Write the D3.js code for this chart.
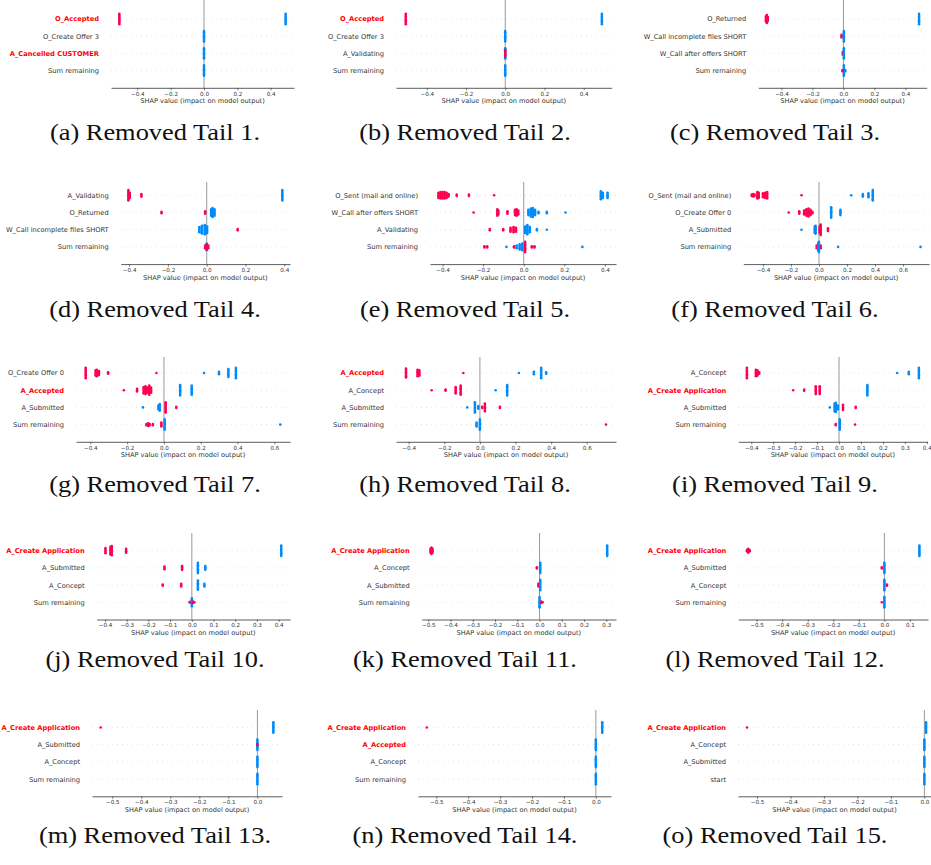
<!DOCTYPE html>
<html lang="en">
<head>
<meta charset="UTF-8">
<title>SHAP beeswarms - removed tails</title>
<script src="https://cdn.jsdelivr.net/npm/d3@7"></script>
<style>
  body { margin: 0; background: #fff; }
  .feat { font-family: "DejaVu Sans", sans-serif; font-size: 6.7px; fill: #333; }
  .feat.hl { fill: #ff0000; font-weight: bold; }
  .xlab { font-family: "DejaVu Sans", sans-serif; font-size: 6.6px; fill: #333; }
  .tick text { font-family: "DejaVu Sans", sans-serif; font-size: 5.6px; fill: #333; }
  .cap { font-family: "Liberation Serif", serif; font-size: 24px; fill: #111; }
</style>
</head>
<body>
<script>
// ---- data ----
const captions = [
  "(a) Removed Tail 1.", "(b) Removed Tail 2.", "(c) Removed Tail 3.",
  "(d) Removed Tail 4.", "(e) Removed Tail 5.", "(f) Removed Tail 6.",
  "(g) Removed Tail 7.", "(h) Removed Tail 8.", "(i) Removed Tail 9.",
  "(j) Removed Tail 10.", "(k) Removed Tail 11.", "(l) Removed Tail 12.",
  "(m) Removed Tail 13.", "(n) Removed Tail 14.", "(o) Removed Tail 15."
];

const featureNames = [
  ["O_Accepted", "O_Create Offer 3", "A_Cancelled CUSTOMER", "Sum remaining"],
  ["O_Accepted", "O_Create Offer 3", "A_Validating", "Sum remaining"],
  ["O_Returned", "W_Call incomplete files SHORT", "W_Call after offers SHORT", "Sum remaining"],
  ["A_Validating", "O_Returned", "W_Call incomplete files SHORT", "Sum remaining"],
  ["O_Sent (mail and online)", "W_Call after offers SHORT", "A_Validating", "Sum remaining"],
  ["O_Sent (mail and online)", "O_Create Offer 0", "A_Submitted", "Sum remaining"],
  ["O_Create Offer 0", "A_Accepted", "A_Submitted", "Sum remaining"],
  ["A_Accepted", "A_Concept", "A_Submitted", "Sum remaining"],
  ["A_Concept", "A_Create Application", "A_Submitted", "Sum remaining"],
  ["A_Create Application", "A_Submitted", "A_Concept", "Sum remaining"],
  ["A_Create Application", "A_Concept", "A_Submitted", "Sum remaining"],
  ["A_Create Application", "A_Submitted", "A_Concept", "Sum remaining"],
  ["A_Create Application", "A_Submitted", "A_Concept", "Sum remaining"],
  ["A_Create Application", "A_Accepted", "A_Concept", "Sum remaining"],
  ["A_Create Application", "A_Concept", "A_Submitted", "start"]
];

// activities printed in bold red
const highlighted = ["O_Accepted", "A_Cancelled CUSTOMER", "A_Accepted", "A_Create Application"];

const xTicks = [
  [-0.4, -0.2, 0, 0.2, 0.4],
  [-0.4, -0.2, 0, 0.2, 0.4],
  [-0.4, -0.2, 0, 0.2, 0.4],
  [-0.4, -0.2, 0, 0.2, 0.4],
  [-0.4, -0.2, 0, 0.2, 0.4],
  [-0.4, -0.2, 0, 0.2, 0.4, 0.6],
  [-0.4, -0.2, 0, 0.2, 0.4, 0.6],
  [-0.4, -0.2, 0, 0.2, 0.4, 0.6],
  [-0.4, -0.3, -0.2, -0.1, 0, 0.1, 0.2, 0.3, 0.4],
  [-0.4, -0.3, -0.2, -0.1, 0, 0.1, 0.2, 0.3, 0.4],
  [-0.5, -0.4, -0.3, -0.2, -0.1, 0, 0.1, 0.2, 0.3],
  [-0.5, -0.4, -0.3, -0.2, -0.1, 0, 0.1],
  [-0.5, -0.4, -0.3, -0.2, -0.1, 0],
  [-0.5, -0.4, -0.3, -0.2, -0.1, 0],
  [-0.5, -0.4, -0.3, -0.2, -0.1, 0]
];

// SHAP points per feature row: [shap value, how many samples pile up, feature value (1 high / 0 low)]
const pointsTail1 = [
  [[-0.508, 9, 1], [0.49, 9, 0]],
  [[0, 9, 0]],
  [[0, 9, 0]],
  [[0, 9, 0]]
];
const pointsTail2 = [
  [[-0.507, 9, 1], [0.493, 9, 0]],
  [[0, 9, 0]],
  [[0, 9, 0], [0, 6, 1]],
  [[0, 9, 0]]
];
const pointsTail3 = [
  [[-0.50, 5, 1], [-0.494, 7, 1], [-0.488, 4, 1], [0.488, 9, 0]],
  [[-0.012, 3, 1], [0.003, 9, 0]],
  [[-0.004, 3, 1], [0.003, 9, 0]],
  [[0.003, 9, 0], [-0.006, 2, 1], [0.012, 2, 0]]
];
const pointsTail4 = [
  [[-0.404, 9, 1], [-0.397, 5, 1], [-0.337, 3, 1], [0.39, 9, 0]],
  [[-0.233, 2, 1], [-0.008, 3, 1], [0.023, 6, 0], [0.03, 8, 0], [0.04, 6, 0]],
  [[-0.038, 5, 0], [-0.025, 7, 0], [-0.01, 8, 0], [0.002, 6, 0], [0.16, 2, 1]],
  [[0, 6, 0], [-0.008, 3, 1], [0, 5, 1], [0.008, 3, 1]]
];
const pointsTail5 = [
  [[-0.42, 5, 1], [-0.41, 6, 1], [-0.40, 6, 1], [-0.39, 6, 1], [-0.38, 5, 1], [-0.37, 3, 1],
   [-0.33, 2, 1], [-0.27, 2, 1], [-0.146, 1, 1], [0.38, 7, 0], [0.39, 5, 0], [0.413, 5, 0]],
  [[-0.247, 1, 1], [-0.13, 6, 1], [-0.125, 4, 1], [-0.08, 3, 1], [-0.043, 5, 1], [-0.035, 6, 1],
   [-0.027, 4, 1], [0.023, 5, 0], [0.035, 7, 0], [0.045, 8, 0], [0.056, 5, 0], [0.073, 2, 0],
   [0.114, 2, 0], [0.206, 1, 0]],
  [[-0.167, 2, 1], [-0.101, 2, 1], [-0.065, 4, 1], [-0.05, 5, 1], [-0.038, 4, 1],
   [0.007, 6, 0], [0.018, 8, 0], [0.03, 5, 0], [0.065, 2, 0], [0.114, 1, 0]],
  [[-0.194, 2, 1], [-0.18, 2, 1], [-0.085, 1, 0], [-0.048, 2, 1], [-0.035, 3, 0], [-0.02, 5, 0],
   [-0.007, 6, 0], [0.007, 9, 1], [0.04, 2, 1], [0.053, 2, 1], [0.289, 1, 0]]
];
const pointsTail6 = [
  [[-0.48, 2, 1], [-0.47, 3, 1], [-0.46, 2, 1], [-0.44, 6, 1], [-0.43, 5, 1], [-0.40, 4, 1],
   [-0.385, 5, 1], [-0.37, 6, 1], [-0.125, 1, 1], [0.23, 1, 0], [0.313, 3, 0], [0.353, 4, 0],
   [0.384, 9, 0]],
  [[-0.216, 1, 1], [-0.141, 3, 1], [-0.106, 4, 1], [-0.09, 6, 1], [-0.075, 7, 1], [-0.06, 5, 1],
   [-0.047, 2, 1], [0.087, 9, 0], [0.153, 5, 0]],
  [[-0.125, 1, 0], [-0.03, 6, 0], [-0.024, 7, 0], [0.005, 6, 1], [0.012, 9, 1], [0.064, 3, 1]],
  [[-0.016, 3, 1], [0.012, 3, 1], [-0.005, 7, 0], [0, 9, 0], [0.136, 1, 0], [0.725, 1, 0]]
];
const pointsTail7 = [
  [[-0.425, 9, 1], [-0.371, 5, 1], [-0.365, 6, 1], [-0.353, 4, 1], [-0.303, 2, 1], [-0.041, 1, 1],
   [0.218, 1, 0], [0.299, 3, 0], [0.35, 7, 0], [0.391, 9, 0]],
  [[-0.218, 1, 1], [-0.146, 3, 1], [-0.11, 6, 1], [-0.1, 7, 1], [-0.092, 5, 1], [-0.08, 8, 1],
   [-0.07, 5, 1], [0.088, 9, 0], [0.151, 8, 0]],
  [[-0.114, 1, 0], [-0.03, 4, 0], [-0.023, 6, 0], [0.009, 9, 1], [0.067, 2, 1]],
  [[-0.095, 2, 1], [-0.085, 3, 1], [-0.078, 2, 1], [-0.06, 2, 1], [-0.014, 4, 1], [0.004, 9, 0],
   [0.632, 1, 0]]
];
const pointsTail8 = [
  [[-0.415, 8, 1], [-0.35, 6, 1], [-0.34, 5, 1], [-0.093, 1, 1], [0.219, 1, 0], [0.303, 3, 0],
   [0.344, 9, 0], [0.372, 2, 0]],
  [[-0.271, 1, 1], [-0.193, 2, 1], [-0.136, 6, 1], [-0.108, 8, 1], [0.088, 1, 0], [0.153, 9, 0]],
  [[-0.071, 1, 0], [-0.028, 9, 0], [-0.009, 3, 0], [0.013, 2, 1], [0.028, 7, 1], [0.112, 2, 1]],
  [[-0.019, 4, 0], [0, 9, 0], [0.708, 1, 1]]
];
const pointsTail9 = [
  [[-0.42, 9, 1], [-0.379, 6, 1], [-0.372, 5, 1], [-0.364, 2, 1], [0.265, 1, 0], [0.318, 3, 0],
   [0.364, 9, 0]],
  [[-0.209, 1, 1], [-0.159, 2, 1], [-0.106, 7, 1], [-0.088, 7, 1], [0.129, 9, 0]],
  [[-0.042, 1, 0], [-0.02, 7, 0], [-0.015, 8, 0], [-0.005, 4, 0], [0.018, 5, 1], [0.076, 2, 1]],
  [[-0.015, 2, 1], [0.003, 9, 0], [0.073, 1, 1]]
];
const pointsTail10 = [
  [[-0.398, 5, 1], [-0.375, 7, 1], [-0.369, 8, 1], [-0.303, 4, 1], [0.412, 9, 0]],
  [[-0.126, 3, 1], [-0.045, 4, 1], [0.028, 9, 0], [0.062, 4, 0]],
  [[-0.134, 2, 1], [-0.049, 3, 1], [0.028, 8, 0], [0.058, 3, 0]],
  [[-0.011, 1, 1], [-0.005, 2, 1], [0, 7, 0], [0.006, 2, 1], [0.012, 1, 1]]
];
const pointsTail11 = [
  [[-0.49, 4, 1], [-0.486, 6, 1], [-0.481, 4, 1], [0.304, 9, 0]],
  [[-0.012, 2, 1], [0.003, 9, 0]],
  [[-0.005, 3, 1], [0.003, 9, 0]],
  [[0, 9, 0], [0.008, 2, 1], [0.014, 1, 1]]
];
const pointsTail12 = [
  [[-0.538, 2, 1], [-0.533, 4, 1], [-0.527, 2, 1], [0.137, 9, 0]],
  [[-0.01, 2, 1], [0, 9, 0]],
  [[0, 9, 0], [0.01, 2, 1]],
  [[-0.01, 1, 1], [0, 9, 0]]
];
const pointsTail13 = [
  [[-0.54, 1, 1], [0.055, 9, 0]],
  [[0, 9, 0], [0, 2, 1]],
  [[0, 9, 0]],
  [[0, 9, 0]]
];
const pointsTail14 = [
  [[-0.53, 1, 1], [0.02, 9, 0]],
  [[0, 9, 0]],
  [[0, 9, 0]],
  [[0, 9, 0]]
];
const pointsTail15 = [
  [[-0.53, 1, 1], [0.005, 9, 0]],
  [[0, 9, 0]],
  [[0, 9, 0]],
  [[0, 9, 0]]
];

const allPoints = [pointsTail1, pointsTail2, pointsTail3, pointsTail4, pointsTail5,
  pointsTail6, pointsTail7, pointsTail8, pointsTail9, pointsTail10, pointsTail11,
  pointsTail12, pointsTail13, pointsTail14, pointsTail15];

// ---- layout ----
const W = 931, H = 865;
const rowTop = [19, 195.3, 373, 550.7, 727.5];    // y of first feature in each grid row
const zeroTop = [0, 182, 357, 533, 710];
const captionBase = [140, 317, 492, 667, 843];
const colCenter = [155, 465, 775];
const rowGap = 17.2;
const plotLeft  = [111, 396, 758.3, 120.7, 430, 743.3, 76, 396, 738.3, 96.7, 421.7, 738.3, 92, 418, 738];
const plotRight = [294, 611.7, 926.7, 290, 616, 929, 290, 616, 927.5, 290, 616, 928, 282, 611, 935];
const red = "#ff0051", blue = "#008bfb";

const svg = d3.select("body").append("svg")
  .attr("width", W)
  .attr("height", H)
  .style("background", "#fff");

allPoints.forEach((rows, p) => {
  const gr = Math.floor(p / 3), gc = p % 3;
  const g = svg.append("g");
  const y0 = rowTop[gr];
  const axisY = y0 + rowGap * 4;

  // matplotlib style autoscale: data extent padded by 5%
  const vals = rows.flat().map(d => d[0]);
  const [lo, hi] = d3.extent(vals);
  const pad = (hi - lo) * 0.05;
  const x = d3.scaleLinear().domain([lo - pad, hi + pad]).range([plotLeft[p], plotRight[p]]);

  // dotted row guides
  featureNames[p].forEach((name, i) => {
    const yy = y0 + i * rowGap;
    g.append("line")
      .attr("x1", plotLeft[p]).attr("x2", Math.min(plotRight[p], W))
      .attr("y1", yy).attr("y2", yy)
      .attr("stroke", "#cccccc").attr("stroke-width", 0.5)
      .attr("stroke-dasharray", "1 4");
    g.append("text")
      .attr("class", highlighted.includes(name) ? "feat hl" : "feat")
      .attr("x", plotLeft[p] - 12)
      .attr("y", yy + 2.4)
      .attr("text-anchor", "end")
      .text(name);
  });

  // zero line
  g.append("line")
    .attr("x1", x(0)).attr("x2", x(0))
    .attr("y1", zeroTop[gr]).attr("y2", axisY)
    .attr("stroke", "#999").attr("stroke-width", 1);

  // dots, piled vertically like the beeswarm
  rows.forEach((clusters, i) => {
    const yy = y0 + i * rowGap;
    clusters.forEach(([v, n, f]) => {
      g.selectAll(null)
        .data(d3.range(n))
        .enter().append("circle")
        .attr("cx", x(v))
        .attr("cy", k => yy + (k - (n - 1) / 2) * 1.3)
        .attr("r", 1.3)
        .attr("fill", f ? red : blue);
    });
  });

  // x axis
  const ax = g.append("g")
    .attr("transform", `translate(0,${axisY})`)
    .call(d3.axisBottom(x)
      .tickValues(xTicks[p])
      .tickFormat(d3.format(".1f"))
      .tickSize(2.5)
      .tickSizeOuter(0)
      .tickPadding(1.5));
  ax.select(".domain").attr("stroke", "#333").attr("stroke-width", 0.8);
  ax.selectAll(".tick line").attr("stroke", "#333").attr("stroke-width", 0.6);

  g.append("text")
    .attr("class", "xlab")
    .attr("x", (plotLeft[p] + Math.min(plotRight[p], W)) / 2)
    .attr("y", axisY + 15.5)
    .attr("text-anchor", "middle")
    .text("SHAP value (impact on model output)");

  // caption
  g.append("text")
    .attr("class", "cap")
    .attr("text-anchor", "middle")
    .attr("transform", `translate(${colCenter[gc]},${captionBase[gr]}) scale(1.1,1)`)
    .text(captions[p]);
});
</script>
</body>
</html>
